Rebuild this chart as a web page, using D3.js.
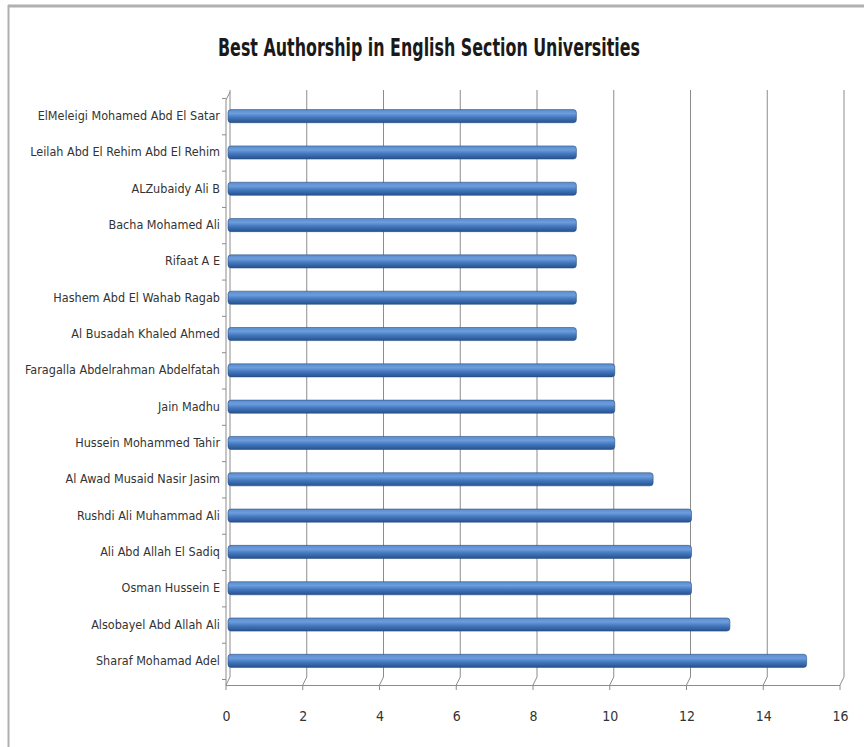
<!DOCTYPE html>
<html>
<head>
<meta charset="utf-8">
<script src="https://cdn.jsdelivr.net/npm/d3@7"></script>
<style>
  body { margin: 0; background: #fff; }
  svg { display: block; }
</style>
</head>
<body>
<div id="chart"></div>
<script>
// -------------------- DATA --------------------
const authors = [
    "ElMeleigi Mohamed Abd El Satar",
    "Leilah Abd El Rehim Abd El Rehim",
    "ALZubaidy Ali B",
    "Bacha Mohamed Ali",
    "Rifaat A E",
    "Hashem Abd El Wahab Ragab",
    "Al Busadah Khaled Ahmed",
    "Faragalla Abdelrahman Abdelfatah",
    "Jain Madhu",
    "Hussein Mohammed Tahir",
    "Al Awad Musaid Nasir Jasim",
    "Rushdi Ali Muhammad Ali",
    "Ali Abd Allah El Sadiq",
    "Osman Hussein E",
    "Alsobayel Abd Allah Ali",
    "Sharaf Mohamad Adel"
];
const counts = [9, 9, 9, 9, 9, 9, 9, 10, 10, 10, 11, 12, 12, 12, 13, 15];
const xTicks = [0, 2, 4, 6, 8, 10, 12, 14, 16];
const title = "Best Authorship in English Section Universities";

// -------------------- CHART --------------------
const width = 864, height = 747;
const fontFamily = "'DejaVu Sans Condensed', 'DejaVu Sans', sans-serif";
const depthX = 4, depthY = -8;   // 3d back-wall offset
const floorY = 685;

let data = authors.map((name, i) => ({ name: name, value: counts[i] }));

const svg = d3.select("#chart")
    .append("svg")
    .attr("width", width)
    .attr("height", height)
    .attr("viewBox", [0, 0, width, height]);

// cylinder gradient
const grad = svg.append("defs").append("linearGradient")
    .attr("id", "cyl")
    .attr("x1", 0).attr("y1", 0).attr("x2", 0).attr("y2", 1);
grad.append("stop").attr("offset", "0%").attr("stop-color", "#5a8dd0");
grad.append("stop").attr("offset", "30%").attr("stop-color", "#6c9ddc");
grad.append("stop").attr("offset", "60%").attr("stop-color", "#4377bd");
grad.append("stop").attr("offset", "100%").attr("stop-color", "#26528f");

// outer frame (screenshot border)
svg.append("line")
    .attr("x1", 8).attr("x2", width).attr("y1", 6).attr("y2", 6)
    .attr("stroke", "#b0b0b0").attr("stroke-width", 3);
svg.append("line")
    .attr("x1", 8.5).attr("x2", 8.5).attr("y1", 5).attr("y2", height)
    .attr("stroke", "#b0b0b0").attr("stroke-width", 2);

// title (narrow, Calibri-like)
svg.append("text")
    .attr("x", 218)
    .attr("y", 56)
    .attr("font-family", fontFamily)
    .attr("font-stretch", "condensed")
    .attr("font-weight", "bold")
    .attr("font-size", 25)
    .attr("textLength", 422)
    .attr("lengthAdjust", "spacingAndGlyphs")
    .attr("fill", "#1a1a1a")
    .text(title);

let x = d3.scaleLinear()
    .domain([0, 16])
    .range([226, 840]);
let y = d3.scaleBand()
    .domain(d3.range(data.length))
    .range([98, 679])
    .paddingInner(0.64)
    .paddingOuter(0.32);

const topY = 90;

// gridlines on back wall + floor diagonals
const grid = svg.append("g")
    .attr("stroke", "#8c8c8c")
    .attr("stroke-width", 1)
    .attr("fill", "none");
grid.selectAll("path")
    .data(xTicks)
    .join("path")
    .attr("d", d => {
        const xb = x(d) + depthX;
        return `M${xb},${topY}V${floorY + depthY}L${x(d)},${floorY}V${floorY + 5}`;
    });

// floor front edge
svg.append("line")
    .attr("x1", x(0)).attr("x2", x(16))
    .attr("y1", floorY + 0.5).attr("y2", floorY + 0.5)
    .attr("stroke", "#8c8c8c");

// left wall (y axis) with category labels
let yAxis = g => g
    .attr("transform", `translate(${x(0)},0)`)
    .call(d3.axisLeft(y).tickFormat(i => data[i].name).tickSize(0).tickPadding(6))
    .call(g => g.select(".domain").remove())
    .call(g => g.selectAll("text")
        .attr("font-family", fontFamily)
        .attr("font-stretch", "condensed")
        .attr("font-size", 12.5)
        .attr("fill", "#333"));
svg.append("g").call(yAxis);

svg.append("path")
    .attr("d", `M${x(0)},${floorY}V${topY + 10}L${x(0) + depthX},${topY + 2}`)
    .attr("stroke", "#8c8c8c").attr("fill", "none");

const step = y.step();
svg.append("g")
    .attr("stroke", "#8c8c8c")
    .selectAll("line")
    .data(d3.range(data.length + 1))
    .join("line")
    .attr("x1", x(0) - 4).attr("x2", x(0))
    .attr("y1", i => 98 + i * step + 0.5)
    .attr("y2", i => 98 + i * step + 0.5);

// bars
const bars = svg.append("g");
bars.selectAll("rect")
    .data(data)
    .join("rect")
    .attr("x", x(0) + 2)
    .attr("y", (d, i) => y(i))
    .attr("width", d => x(d.value) - x(0) + 3)
    .attr("height", y.bandwidth())
    .attr("rx", 3)
    .attr("fill", "url(#cyl)")
    .attr("stroke", "#2b4f82")
    .attr("stroke-width", 0.6);

// x axis tick labels
let xAxis = g => g
    .attr("transform", `translate(0,${floorY + 23})`)
    .call(d3.axisBottom(x).tickValues(xTicks).tickSize(0))
    .call(g => g.select(".domain").remove())
    .call(g => g.selectAll("text")
        .attr("font-family", fontFamily)
        .attr("font-stretch", "condensed")
        .attr("font-size", 14)
        .attr("fill", "#333"));
svg.append("g").call(xAxis);
</script>
</body>
</html>
